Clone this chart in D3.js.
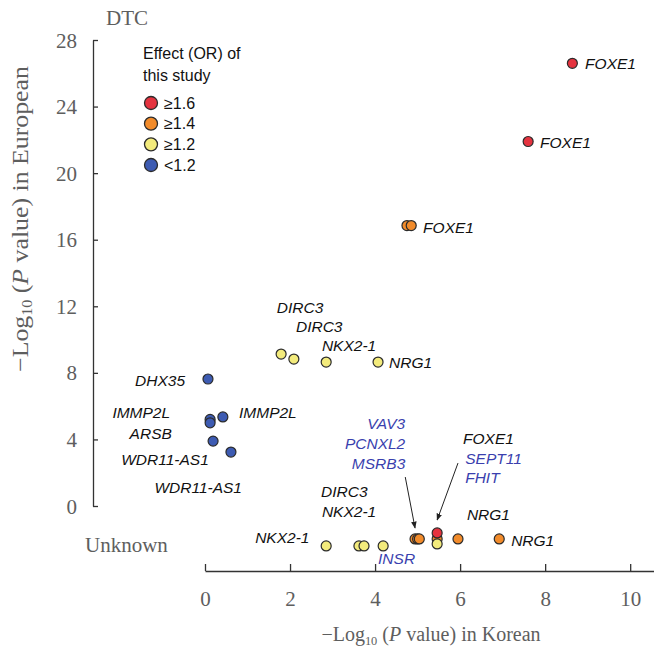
<!DOCTYPE html>
<html>
<head>
<meta charset="utf-8">
<script src="https://cdn.jsdelivr.net/npm/d3@7"></script>
<style>
  body { margin: 0; background: #fff; }
  svg { display: block; }
</style>
</head>
<body>
<div class="plot"></div>
<script>
// data
const korean   = [8.64, 7.6, 4.75, 4.85, 1.79, 2.09, 2.85, 4.07, 0.07, 0.12, 0.12, 0.42, 0.19, 0.61,
                  2.85, 3.62, 3.74, 4.19, 4.94, 5.0, 5.04, 5.46, 5.46, 5.46, 5.95, 6.92];
const european = [26.6, 21.9, 16.85, 16.85, 9.13, 8.83, 8.65, 8.65, 7.63, 5.2, 5.0, 5.35, 3.9, 3.24,
                  -2.4, -2.4, -2.4, -2.4, -1.98, -1.98, -1.98, -1.98, -1.62, -2.28, -1.98, -1.98];
const effect   = ["≥1.6", "≥1.6", "≥1.4", "≥1.4", "≥1.2", "≥1.2", "≥1.2", "≥1.2", "<1.2", "<1.2", "<1.2", "<1.2", "<1.2", "<1.2",
                  "≥1.2", "≥1.2", "≥1.2", "≥1.2", "≥1.4", "≥1.4", "≥1.4", "≥1.4", "≥1.6", "≥1.2", "≥1.4", "≥1.4"];
const effectCats = ["≥1.6", "≥1.4", "≥1.2", "<1.2"];
const xTicks = [0, 2, 4, 6, 8, 10];
const yTicks = [0, 4, 8, 12, 16, 20, 24, 28];

// gene labels (anchor in data units), blue = novel loci
const labelText = ["FOXE1", "FOXE1", "FOXE1", "DIRC3", "DIRC3", "NKX2-1", "NRG1", "DHX35", "IMMP2L", "IMMP2L",
                   "ARSB", "WDR11-AS1", "WDR11-AS1", "VAV3", "PCNXL2", "MSRB3", "FOXE1", "SEPT11", "FHIT",
                   "DIRC3", "NKX2-1", "NKX2-1", "NRG1", "NRG1", "INSR"];
const labelX = [8.94, 7.88, 5.13, 1.69, 2.14, 2.75, 4.33, -0.47, -0.82, 0.8, -0.78, 0.09, 0.87, 4.71, 4.71, 4.71,
                6.07, 6.12, 6.12, 2.73, 2.75, 1.18, 6.16, 7.2, 4.07];
const labelY = [26.6, 21.86, 16.76, 11.95, 10.81, 9.67, 8.65, 7.57, 5.65, 5.65, 4.38, 2.82, 1.14, 4.98, 3.78, 2.58,
                4.08, 2.88, 1.74, 0.9, -0.3, -1.86, -0.48, -2.04, -3.12];
const labelEnd = [0, 0, 0, 0, 0, 0, 0, 1, 1, 0, 1, 1, 1, 1, 1, 1, 0, 0, 0, 0, 0, 0, 0, 0, 0];
const labelBlue = [0, 0, 0, 0, 0, 0, 0, 0, 0, 0, 0, 0, 0, 1, 1, 1, 0, 1, 1, 0, 0, 0, 0, 0, 1];

// arrows [x1, y1, x2, y2] in data units
const arrows = [[4.71, 1.74, 4.94, -1.32], [5.95, 2.58, 5.46, -0.84]];

const w = 654;
const h = 647;
const serif = "'Liberation Serif', 'Times New Roman', serif";
const sans = "'Liberation Sans', Arial, sans-serif";
const grey = "#5e5e5e";

const svg = d3.select('.plot')
    .append('svg')
    .attr('width', w)
    .attr('height', h);

const x = d3.scaleLinear().domain([0, 10.56]).range([205, 654]);
const y = d3.scaleLinear().domain([0, 28]).range([506, 40]);
const color = d3.scaleOrdinal().domain(effectCats).range(["#e5333f", "#f28b2a", "#f3eb7c", "#3d5bb2"]);

// y axis (ticks point inwards)
const yAxis = svg.append("g")
    .attr("transform", "translate(93,0)")
    .call(d3.axisLeft(y).tickValues(yTicks).tickSizeInner(-5).tickSizeOuter(0).tickPadding(16));
yAxis.selectAll("text").attr("font-family", serif).attr("font-size", 21).attr("fill", grey).attr("dy", "0.34em");

// x axis
const xAxis = svg.append("g")
    .attr("transform", "translate(0,571)")
    .call(d3.axisBottom(x).tickValues(xTicks).tickSizeInner(-7).tickSizeOuter(0).tickPadding(20));
xAxis.selectAll("text").attr("font-family", serif).attr("font-size", 21).attr("fill", grey);
svg.selectAll(".domain, .tick line").attr("stroke", "#333").attr("stroke-width", 1.3);

// row labels
svg.append("text").text("DTC")
    .attr("x", 106).attr("y", 25)
    .attr("font-family", serif).attr("font-size", 21).attr("fill", grey);
svg.append("text").text("Unknown")
    .attr("x", 85).attr("y", 552)
    .attr("font-family", serif).attr("font-size", 21).attr("fill", grey);

// axis titles
function axisTitle(g, tail) {
    g.append("tspan").text("\u2212Log");
    g.append("tspan").text("10").attr("font-size", "0.62em").attr("dy", 4);
    g.append("tspan").text(" (").attr("dy", -4);
    g.append("tspan").text("P").attr("font-style", "italic");
    g.append("tspan").text(" value) in " + tail);
}
const xt = svg.append("text")
    .attr("x", 431).attr("y", 641)
    .attr("text-anchor", "middle")
    .attr("font-family", serif).attr("font-size", 20).attr("fill", grey);
axisTitle(xt, "Korean");
const yt = svg.append("text")
    .attr("transform", "translate(28,219) rotate(-90)")
    .attr("text-anchor", "middle")
    .attr("font-family", serif).attr("font-size", 23).attr("fill", grey);
axisTitle(yt, "European");
// the original title is a bit stretched along the axis
const ytLen = yt.node().getComputedTextLength();
yt.attr("transform", "translate(28,219) rotate(-90) scale(" + (306 / ytLen) + ",1)");

// arrows
svg.append("defs").append("marker")
    .attr("id", "arr")
    .attr("viewBox", "0 0 10 10")
    .attr("refX", 9).attr("refY", 5)
    .attr("markerWidth", 7).attr("markerHeight", 7)
    .attr("orient", "auto")
    .append("path")
    .attr("d", "M0,1 L10,5 L0,9 z")
    .attr("fill", "#222");

svg.selectAll("line.arrow")
    .data(arrows)
    .enter()
    .append("line")
    .attr("class", "arrow")
    .attr("x1", d => x(d[0])).attr("y1", d => y(d[1]))
    .attr("x2", d => x(d[2])).attr("y2", d => y(d[3]))
    .attr("stroke", "#222")
    .attr("stroke-width", 1)
    .attr("marker-end", "url(#arr)");

// points
const points = korean.map((k, i) => ({k: k, e: european[i], eff: effect[i]}));
const order = {"≥1.4": 0, "≥1.6": 1, "≥1.2": 2, "<1.2": 3};
points.sort((a, b) => order[a.eff] - order[b.eff]);

svg.selectAll("circle.pt")
    .data(points)
    .enter()
    .append("circle")
    .attr("class", "pt")
    .attr("cx", d => x(d.k))
    .attr("cy", d => y(d.e))
    .attr("r", 5)
    .attr("fill", d => color(d.eff))
    .attr("stroke", "#2b2b2b")
    .attr("stroke-width", 1.2);

// gene labels
svg.selectAll("text.gene")
    .data(labelText)
    .enter()
    .append("text")
    .attr("class", "gene")
    .text(d => d)
    .attr("x", (d, i) => x(labelX[i]))
    .attr("y", (d, i) => y(labelY[i]))
    .attr("dy", "0.36em")
    .attr("text-anchor", (d, i) => labelEnd[i] ? "end" : "start")
    .attr("font-family", sans)
    .attr("font-style", "italic")
    .attr("font-size", 15.5)
    .attr("fill", (d, i) => labelBlue[i] ? "#3a3fae" : "#111");

// legend
const legend = svg.append("g");
legend.append("text").text("Effect (OR) of")
    .attr("x", 143).attr("y", 59)
    .attr("font-family", sans).attr("font-size", 16).attr("fill", "#111");
legend.append("text").text("this study")
    .attr("x", 143).attr("y", 81)
    .attr("font-family", sans).attr("font-size", 16).attr("fill", "#111");

const ly = d3.scalePoint().domain(effectCats).range([103, 165]);
legend.selectAll("circle")
    .data(effectCats)
    .enter()
    .append("circle")
    .attr("cx", 151)
    .attr("cy", d => ly(d))
    .attr("r", 6.5)
    .attr("fill", d => color(d))
    .attr("stroke", "#2b2b2b")
    .attr("stroke-width", 1.3);
legend.selectAll("text.lab")
    .data(effectCats)
    .enter()
    .append("text")
    .attr("class", "lab")
    .text(d => d)
    .attr("x", 164)
    .attr("y", d => ly(d))
    .attr("dy", "0.36em")
    .attr("font-family", sans).attr("font-size", 16).attr("fill", "#111");
</script>
</body>
</html>
